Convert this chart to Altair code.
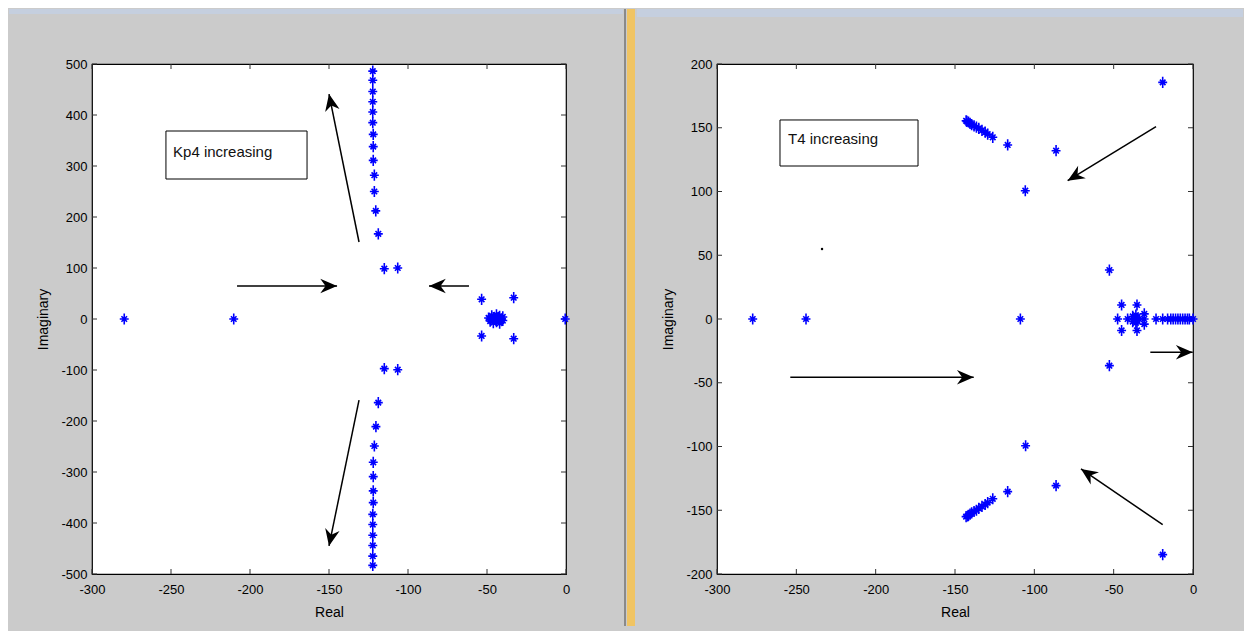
import math
import altair as alt
import pandas as pd

# ---------------- data ----------------
# Left panel: Kp4 increasing
left_real = [-279.6, -210.3, -0.5,
             -118.8, -120.4, -121.3, -121.3, -122.0, -122.0, -122.0, -122.3, -122.3, -122.3, -122.3, -122.3, -122.3,
             -118.8, -120.3, -121.3, -122.0, -122.0, -122.0, -122.0, -122.3, -122.3, -122.3, -122.3, -122.3, -122.3,
             -115.0, -106.5, -115.0, -106.5,
             -53.4, -33.1, -53.4, -33.1,
             -49.0, -48.0, -47.0, -46.0, -45.0, -44.0, -44.0, -43.0, -42.0, -42.0, -41.0, -40.0, -40.0, -46.0, -48.0]
left_imag = [0, 0, 0,
             167, 212, 250, 282, 311, 338, 362, 385, 406, 426, 446, 468, 486,
             -164, -211, -249, -281, -309, -337, -360, -383, -403, -424, -444, -465, -483,
             98.6, 100.0, -97.4, -99.4,
             38.6, 41.8, -33.3, -38.6,
             2, -4, 6, -7, 0, 8, -5, 3, -8, 5, 0, -3, 4, 3, 0]

# Right panel: T4 increasing
right_real = [-277.5, -243.9, -108.8,
              -52.7, -52.7,
              -45.0, -35.3, -45.0, -35.3, -30.7, -30.7, -36.0, -36.0, -38.0, -38.0,
              -47.5, -41.2, -37.0, -36.0, -35.0, -34.0, -30.8, -23.3, -19.1, -16.0, -14.0, -12.5, -11.0,
              -9.5, -8.0, -6.5, -5.0, -3.5, -2.3, 0.0,
              -19.1, -86.3, -105.7, -116.8, -126.2, -129.4, -131.0, -133.0, -135.0, -136.5, -138.0,
              -139.5, -140.5, -141.5, -142.5, -143.0,
              -19.1, -86.3, -105.5, -116.8, -126.2, -129.4, -131.0, -133.0, -135.0, -136.5, -138.0,
              -139.5, -140.5, -141.5, -142.0, -143.0]
right_imag = [0, 0, 0,
              38.4, -36.6,
              11, 11, -9, -9, 4, -4, 3, -3, 2, -2,
              0, 0, 0, 0, 0, 0, 0, 0, 0, 0, 0, 0, 0,
              0, 0, 0, 0, 0, 0, 0,
              185.6, 132.0, 100.6, 136.5, 142.5, 145.0, 146.5, 148.0, 149.5, 150.5, 151.5,
              152.5, 153.5, 154.5, 155.0, 155.5,
              -184.8, -130.7, -99.4, -135.4, -141.0, -144.0, -145.5, -147.0, -148.5, -150.0, -151.0,
              -152.0, -153.0, -154.0, -154.5, -155.0]
stray_real = [-233.8]
stray_imag = [54.9]

# arrows: tail -> tip, in data units
left_arrows_x1 = [-208.2, -61.4, -131.0, -131.0]
left_arrows_y1 = [64.7, 64.7, 151.0, -159.0]
left_arrows_x2 = [-144.9, -86.7, -150.0, -150.0]
left_arrows_y2 = [64.7, 64.7, 441.0, -445.0]
right_arrows_x1 = [-23.3, -19.1, -253.8, -26.9]
right_arrows_y1 = [150.8, -161.3, -45.7, -26.1]
right_arrows_x2 = [-79.0, -70.6, -138.2, -0.2]
right_arrows_y2 = [108.5, -117.6, -45.7, -26.1]

# annotation boxes
left_box = dict(x1=-253.2, x2=-163.9, y1=274.5, y2=368.6, tx=-248.7, ty=327.5, label="Kp4 increasing")
right_box = dict(x1=-260.3, x2=-173.3, y1=120.0, y2=156.1, tx=-255.2, ty=141.2, label="T4 increasing")

x_ticks = [-300, -250, -200, -150, -100, -50, 0]
left_y_ticks = [-500, -400, -300, -200, -100, 0, 100, 200, 300, 400, 500]
right_y_ticks = [-200, -150, -100, -50, 0, 50, 100, 150, 200]

# ---------------- styling ----------------
W_L, W_R, H = 474, 476, 510
BG = "#cbcbcb"
FONT = "Liberation Sans"
STAR = "M0,-1L0,1M-0.8,0L0.8,0M-0.5,-0.5L0.5,0.5M-0.5,0.5L0.5,-0.5"
HEAD = "M0,0L0.7,1.6L0,1.1L-0.7,1.6Z"


def panel(px, py, ax1, ay1, ax2, ay2, box, ydom, yvals, W, strip_x, strip_x2, strip_y2, extra=None,
          divider=False):
    xs = alt.Scale(domain=[-300, 0], nice=False, zero=False)
    ys = alt.Scale(domain=ydom, nice=False, zero=False)
    xax = alt.Axis(values=x_ticks, title="Real", labelExpr="'' + datum.value", grid=False, domain=False,
                   ticks=False, tickSize=0, labelPadding=9, titlePadding=9, labelFlush=False,
                   labelOverlap=False)
    yax = alt.Axis(values=yvals, title="Imaginary", labelExpr="'' + datum.value", grid=False, domain=False,
                   ticks=False, tickSize=0, labelPadding=5, titlePadding=10, labelFlush=False,
                   labelOverlap=False)

    def X(f):
        return alt.X(f, type="quantitative", scale=xs, axis=xax)

    def Y(f):
        return alt.Y(f, type="quantitative", scale=ys, axis=yax)

    pts = pd.DataFrame({"re": px, "im": py})
    arr = pd.DataFrame({"x1": ax1, "y1": ay1, "x2": ax2, "y2": ay2})
    sx = W / 300.0
    sy = H / float(ydom[1] - ydom[0])
    arr["ang"] = [
        (math.degrees(math.atan2((b - a) * sx, (d - c) * sy)) + 360) % 360
        for a, b, c, d in zip(ax1, ax2, ay1, ay2)
    ]
    bx = pd.DataFrame([box])
    xt = pd.DataFrame({"v": x_ticks})
    yt = pd.DataFrame({"v": yvals})
    one = pd.DataFrame({"d": [0]})

    layers = []
    # decorative top strip of the window
    layers.append(alt.Chart(one).mark_rect(color="#c5cfdf").encode(
        x=alt.value(strip_x), x2=alt.value(strip_x2), y=alt.value(-55), y2=alt.value(strip_y2)))
    if divider:
        layers.append(alt.Chart(one).mark_rect(color="#8a8a8a").encode(
            x=alt.value(532), x2=alt.value(534), y=alt.value(-55), y2=alt.value(562)))
        layers.append(alt.Chart(one).mark_rect(color="#f0c463").encode(
            x=alt.value(535), x2=alt.value(543), y=alt.value(-55), y2=alt.value(562)))

    layers.append(alt.Chart(bx).mark_rect(fill="white", stroke="black", strokeWidth=1).encode(
        x=X("x1"), x2="x2", y=Y("y1"), y2="y2"))
    layers.append(alt.Chart(bx).mark_text(align="left", baseline="middle", font=FONT,
                                          fontSize=15, color="#111111").encode(
        x=X("tx"), y=Y("ty"), text="label:N"))
    # inward ticks on the four sides
    layers.append(alt.Chart(xt).mark_rule(color="#333333", strokeWidth=1).encode(
        x=X("v"), y=alt.value(H), y2=alt.value(H - 5)))
    layers.append(alt.Chart(xt).mark_rule(color="#333333", strokeWidth=1).encode(
        x=X("v"), y=alt.value(0), y2=alt.value(5)))
    layers.append(alt.Chart(yt).mark_rule(color="#333333", strokeWidth=1).encode(
        y=Y("v"), x=alt.value(0), x2=alt.value(5)))
    layers.append(alt.Chart(yt).mark_rule(color="#333333", strokeWidth=1).encode(
        y=Y("v"), x=alt.value(W), x2=alt.value(W - 5)))
    # arrows
    layers.append(alt.Chart(arr).mark_rule(color="black", strokeWidth=1.5).encode(
        x=X("x1"), y=Y("y1"), x2="x2", y2="y2"))
    layers.append(alt.Chart(arr).mark_point(shape=HEAD, filled=True, color="black", size=440, opacity=1,
                                            strokeWidth=0).encode(
        x=X("x2"), y=Y("y2"), angle=alt.Angle("ang:Q", scale=None)))
    # poles
    layers.append(alt.Chart(pts).mark_point(shape=STAR, filled=False, color="#0000ff", size=125, opacity=1,
                                            strokeWidth=1.6).encode(x=X("re"), y=Y("im")))
    if extra is not None:
        ex = pd.DataFrame({"re": extra[0], "im": extra[1]})
        layers.append(alt.Chart(ex).mark_point(shape="circle", filled=True, color="black", size=6,
                                               opacity=1).encode(x=X("re"), y=Y("im")))
    return alt.layer(*layers).properties(width=W, height=H)


left = panel(left_real, left_imag, left_arrows_x1, left_arrows_y1, left_arrows_x2, left_arrows_y2,
             left_box, [-500, 500], left_y_ticks, W_L, -83, 531, -50, divider=True)
right = panel(right_real, right_imag, right_arrows_x1, right_arrows_y1, right_arrows_x2, right_arrows_y2,
              right_box, [-200, 200], right_y_ticks, W_R, -80, 526, -47, extra=(stray_real, stray_imag))

chart = alt.hconcat(left, right, spacing=151, bounds="flush").properties(
    background=BG,
    padding={"left": 0, "top": 0, "right": 0, "bottom": 4},
).configure_view(
    fill="white", stroke="black", strokeWidth=1.2
).configure_axis(
    labelFont=FONT, labelFontSize=13, labelColor="black",
    titleFont=FONT, titleFontSize=14, titleFontWeight="normal", titleColor="black",
)

chart.save("out.html", embed_options={"renderer": "svg", "actions": False})
